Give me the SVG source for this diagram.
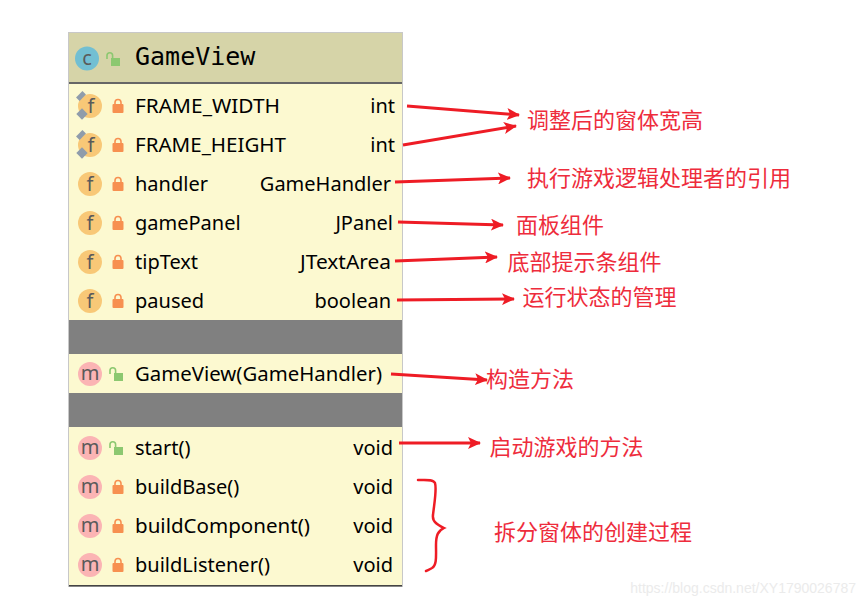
<svg xmlns="http://www.w3.org/2000/svg" width="865" height="606" viewBox="0 0 865 606">
<style>
text{font-family:"Noto Sans","Liberation Sans",sans-serif}
.t{font-size:20px;fill:#000}
.r{text-anchor:end}
.cn{font-family:"Noto Sans CJK SC",sans-serif;font-size:22px;fill:#ee2c3c}
.a{fill:none;stroke:#ee1c25;stroke-width:3}
.ic{font-size:20px;text-anchor:middle;fill:#5a5a5a}
.f{fill:#f8c877}.m{fill:#fbb4b4}
.lk{fill:#f79050}.ul{fill:#8cc870}
.lks{fill:none;stroke:#f79050;stroke-width:1.6}.uls{fill:none;stroke:#8cc870;stroke-width:1.6}
.dg{fill:#8f9cab}
</style>
<defs>
<marker id="ah" markerUnits="userSpaceOnUse" markerWidth="14" markerHeight="12" refX="12" refY="6" orient="auto"><path d="M0 0L13 6L0 12L3 6Z" fill="#ee1c25"/></marker>
<g id="lock"><rect x="-5.500" y="-2" width="11" height="9" rx="1" class="lk"/><path d="M-3-2V-3.500a3 3 0 0 1 6 0V-2" class="lks"/></g>
<g id="unlock"><rect x="-2" y="-1" width="9" height="8" class="ul"/><path d="M-6 0V-3.500a2.800 2.800 0 0 1 5.600 0V-1" class="uls"/></g>
<g id="pin"><rect x="-4.500" y="-2.500" width="9" height="5" class="dg" transform="translate(-9 -10) rotate(-45)"/><rect x="-4" y="-4" width="8" height="8" class="dg" transform="translate(-8 8) rotate(45)"/></g>
</defs>
<rect width="865" height="606" fill="#fff"/>
<g id="class-box">
<rect x="68.500" y="32.500" width="334" height="554" fill="#fcf9d0" stroke="#c8c8c8"/>
<rect x="69" y="33" width="333" height="50" fill="#d6d4a8"/>
<rect x="69" y="82" width="333" height="2" fill="#666"/>
<rect x="69" y="320" width="333" height="34" fill="#808080"/>
<rect x="69" y="393" width="333" height="34" fill="#808080"/>
<rect x="69" y="585" width="333" height="1.500" fill="#444"/>
</g>
<g id="header">
<circle cx="87" cy="58.500" r="12" fill="#72bfd2"/><text x="87" y="65" class="ic">c</text>
<use href="#unlock" x="113" y="59"/>
<text x="135" y="65" font-size="25" style="font-family:'DejaVu Sans Mono',monospace">GameView</text>
</g>
<g id="field-frame-width"><circle cx="90" cy="106" r="12" class="f"/><use href="#pin" x="90" y="106"/><text x="91" y="113" class="ic">f</text><use href="#lock" x="118" y="106"/><text x="135" y="113" class="t" textLength="145" lengthAdjust="spacingAndGlyphs">FRAME_WIDTH</text><text x="395" y="113" class="t r">int</text></g>
<g id="field-frame-height"><circle cx="90" cy="145" r="12" class="f"/><use href="#pin" x="90" y="145"/><text x="91" y="152" class="ic">f</text><use href="#lock" x="118" y="145"/><text x="135" y="152" class="t" textLength="151" lengthAdjust="spacingAndGlyphs">FRAME_HEIGHT</text><text x="395" y="152" class="t r">int</text></g>
<g id="field-handler"><circle cx="90" cy="184" r="12" class="f"/><text x="90" y="191" class="ic">f</text><use href="#lock" x="118" y="184"/><text x="135" y="191" class="t">handler</text><text x="391" y="191" class="t r">GameHandler</text></g>
<g id="field-gamepanel"><circle cx="90" cy="223" r="12" class="f"/><text x="90" y="230" class="ic">f</text><use href="#lock" x="118" y="223"/><text x="135" y="230" class="t">gamePanel</text><text x="393" y="230" class="t r">JPanel</text></g>
<g id="field-tiptext"><circle cx="90" cy="262" r="12" class="f"/><text x="90" y="269" class="ic">f</text><use href="#lock" x="118" y="262"/><text x="135" y="269" class="t">tipText</text><text x="300" y="269" class="t" textLength="91" lengthAdjust="spacingAndGlyphs">JTextArea</text></g>
<g id="field-paused"><circle cx="90" cy="301" r="12" class="f"/><text x="90" y="308" class="ic">f</text><use href="#lock" x="118" y="301"/><text x="135" y="308" class="t">paused</text><text x="391" y="308" class="t r">boolean</text></g>
<g id="ctor"><circle cx="90" cy="374" r="12" class="m"/><text x="90" y="380" class="ic">m</text><use href="#unlock" x="116" y="374"/><text x="135" y="381" class="t" textLength="247" lengthAdjust="spacingAndGlyphs">GameView(GameHandler)</text></g>
<g id="method-start"><circle cx="90" cy="448" r="12" class="m"/><text x="90" y="454" class="ic">m</text><use href="#unlock" x="116" y="448"/><text x="135" y="455" class="t">start()</text><text x="393" y="455" class="t r">void</text></g>
<g id="method-buildbase"><circle cx="90" cy="487" r="12" class="m"/><text x="90" y="493" class="ic">m</text><use href="#lock" x="118" y="487"/><text x="135" y="494" class="t">buildBase()</text><text x="393" y="494" class="t r">void</text></g>
<g id="method-buildcomponent"><circle cx="90" cy="526" r="12" class="m"/><text x="90" y="532" class="ic">m</text><use href="#lock" x="118" y="526"/><text x="135" y="533" class="t" textLength="175" lengthAdjust="spacingAndGlyphs">buildComponent()</text><text x="393" y="533" class="t r">void</text></g>
<g id="method-buildlistener"><circle cx="90" cy="565" r="12" class="m"/><text x="90" y="571" class="ic">m</text><use href="#lock" x="118" y="565"/><text x="135" y="572" class="t">buildListener()</text><text x="393" y="572" class="t r">void</text></g>
<g id="connectors">
<path class="a" marker-end="url(#ah)" d="M407 106L519 115"/>
<path class="a" marker-end="url(#ah)" d="M403 145L516 126"/>
<path class="a" marker-end="url(#ah)" d="M395 182L510 178"/>
<path class="a" marker-end="url(#ah)" d="M398 222L503 225"/>
<path class="a" marker-end="url(#ah)" d="M395 261L497 257"/>
<path class="a" marker-end="url(#ah)" d="M397 300L514 299"/>
<path class="a" marker-end="url(#ah)" d="M391 374L487 380"/>
<path class="a" marker-end="url(#ah)" d="M399 443L480 443"/>
<path class="a" stroke-width="2.500" style="stroke-width:2.500px" stroke-linecap="round" d="M418 480C426 480 433 479 435 483C437 490 434 505 433 515C432 522 438 525 444 528C438 531 436 535 436 545C436 556 437 565 432 568C430 569 429 570 426 571"/>
</g>
<g id="labels">
<text x="527" y="128" class="cn">调整后的窗体宽高</text>
<text x="527" y="186" class="cn">执行游戏逻辑处理者的引用</text>
<text x="516" y="233" class="cn">面板组件</text>
<text x="507.500" y="270" class="cn">底部提示条组件</text>
<text x="522.500" y="305" class="cn">运行状态的管理</text>
<text x="486" y="387" class="cn">构造方法</text>
<text x="489.500" y="455" class="cn">启动游戏的方法</text>
<text x="494" y="540" class="cn">拆分窗体的创建过程</text>
</g>
<text id="watermark" x="856" y="593" text-anchor="end" font-size="14" style="font-family:'Liberation Sans',sans-serif" fill="#ebebeb">https://blog.csdn.net/XY1790026787</text>
</svg>
